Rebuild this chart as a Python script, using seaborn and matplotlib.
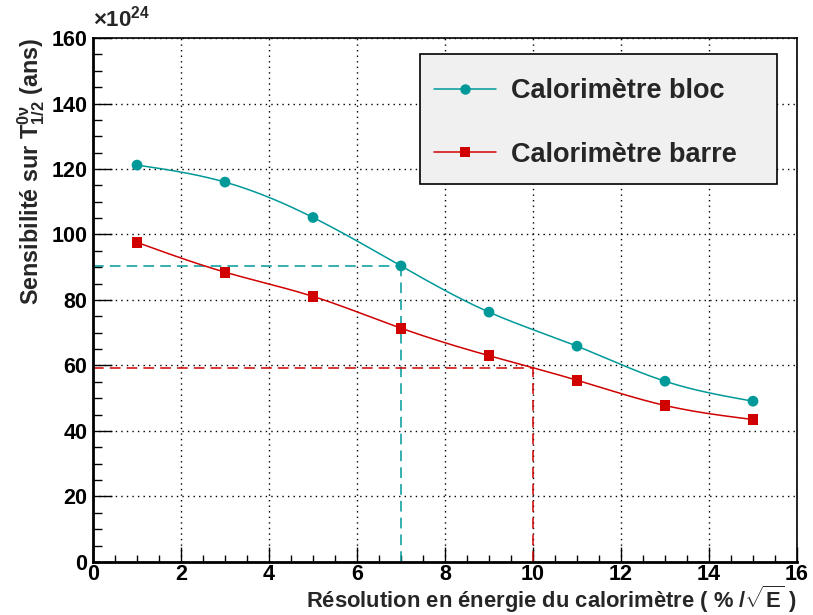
import seaborn as sns
import matplotlib.pyplot as plt
import numpy as np
import pandas as pd
from matplotlib.lines import Line2D
from matplotlib.patches import Rectangle
from matplotlib.ticker import MultipleLocator

# resolution (% / sqrt(E)) and sensitivity (x 1e24 ans)
resolution = [1, 3, 5, 7, 9, 11, 13, 15]
bloc = [121.2, 116.0, 105.2, 90.4, 76.3, 65.9, 55.2, 49.1]
barre = [97.6, 88.5, 81.1, 71.4, 63.0, 55.5, 47.8, 43.5]

# reference working points drawn as dashed guides
bloc_ref = (7, 90.4)
barre_ref = (10, 59.2)

teal = "#009999"
red = "#d00000"


def spline(x, y, n=200):
    # natural cubic spline, only used to draw the smooth curve between points
    x = np.asarray(x, float)
    y = np.asarray(y, float)
    h = np.diff(x)
    m = len(x)
    A = np.zeros((m, m))
    b = np.zeros(m)
    A[0, 0] = A[-1, -1] = 1
    for i in range(1, m - 1):
        A[i, i - 1] = h[i - 1]
        A[i, i] = 2 * (h[i - 1] + h[i])
        A[i, i + 1] = h[i]
        b[i] = 6 * ((y[i + 1] - y[i]) / h[i] - (y[i] - y[i - 1]) / h[i - 1])
    M = np.linalg.solve(A, b)
    xs = np.linspace(x[0], x[-1], n)
    idx = np.clip(np.searchsorted(x, xs) - 1, 0, m - 2)
    x0, x1 = x[idx], x[idx + 1]
    hh = x1 - x0
    ys = (M[idx] * (x1 - xs) ** 3 / (6 * hh) + M[idx + 1] * (xs - x0) ** 3 / (6 * hh)
          + (y[idx] / hh - M[idx] * hh / 6) * (x1 - xs)
          + (y[idx + 1] / hh - M[idx + 1] * hh / 6) * (xs - x0))
    return xs, ys


sns.set_theme(style="white")
plt.rcParams["font.family"] = ["Liberation Sans", "DejaVu Sans"]
plt.rcParams["font.weight"] = "bold"
plt.rcParams["mathtext.fontset"] = "custom"
plt.rcParams["mathtext.rm"] = "Liberation Sans:bold"
plt.rcParams["mathtext.it"] = "Liberation Sans:bold"
plt.rcParams["mathtext.bf"] = "Liberation Sans:bold"
plt.rcParams["mathtext.default"] = "bf"

df = pd.DataFrame({"res": resolution, "bloc": bloc, "barre": barre})

fig = plt.figure(figsize=(8.13, 6.15), dpi=100)
ax = fig.add_axes([0.1144, 0.0862, 0.8659, 0.852])

# smooth curves
for col, c in [("bloc", teal), ("barre", red)]:
    xs, ys = spline(df["res"], df[col])
    sns.lineplot(x=xs, y=ys, ax=ax, color=c, linewidth=1.1, zorder=3)

sns.scatterplot(data=df, x="res", y="bloc", ax=ax, color=teal, marker="o",
                s=60, edgecolor="none", zorder=4)
sns.scatterplot(data=df, x="res", y="barre", ax=ax, color=red, marker="s",
                s=60, edgecolor="none", zorder=4)

# dashed guides
dash = (0, (7, 4))
ax.plot([0, bloc_ref[0]], [bloc_ref[1]] * 2, color=teal, ls=dash, lw=1.1, zorder=2)
ax.plot([bloc_ref[0]] * 2, [0, bloc_ref[1]], color=teal, ls=dash, lw=1.1, zorder=2)
ax.plot([0, barre_ref[0]], [barre_ref[1]] * 2, color=red, ls=dash, lw=1.1, zorder=2)
ax.plot([barre_ref[0]] * 2, [0, barre_ref[1]], color=red, ls=dash, lw=1.1, zorder=2)

ax.set_xlim(0, 16)
ax.set_ylim(0, 160)
ax.xaxis.set_major_locator(MultipleLocator(2))
ax.xaxis.set_minor_locator(MultipleLocator(0.5))
ax.yaxis.set_major_locator(MultipleLocator(20))
ax.yaxis.set_minor_locator(MultipleLocator(5))
ax.grid(True, which="major", color="black", linestyle=(0, (1, 3)), linewidth=1.0)
ax.set_axisbelow(True)

ax.tick_params(axis="both", which="both", direction="in", colors="black",
               labelsize=15.5, bottom=True, left=True, top=False, right=False)
ax.tick_params(axis="y", which="major", length=14, width=1, pad=4)
ax.tick_params(axis="y", which="minor", length=6.5, width=1)
ax.tick_params(axis="x", which="major", length=11, width=1, pad=1.5)
ax.tick_params(axis="x", which="minor", length=5, width=1)
for lab in ax.get_xticklabels() + ax.get_yticklabels():
    lab.set_fontweight("bold")

for side in ["left", "bottom"]:
    ax.spines[side].set_linewidth(2)
    ax.spines[side].set_color("black")
for side in ["top", "right"]:
    ax.spines[side].set_linewidth(1.2)
    ax.spines[side].set_color("black")

# x title right-aligned on the frame, near the bottom of the canvas
ax.set_xlabel("")
fig.text(0.9803, 0.0114, r"Résolution en énergie du calorimètre ( % /$\sqrt{E}$ )",
         fontsize=15.8, fontweight="bold", ha="right", va="baseline")
ax.set_ylabel(r"Sensibilité sur $T^{0\nu}_{1/2}$ (ans)",
              fontsize=16.8, fontweight="bold", loc="top", labelpad=3)
ax.text(0.0, 1.012, r"$\times$10$^{24}$", transform=ax.transAxes,
        fontsize=16, fontweight="bold", ha="left", va="bottom")

# legend box drawn by hand so its size matches, entries placed inside it
ax.add_patch(Rectangle((0.4645, 0.7214), 0.507, 0.248, transform=ax.transAxes,
                       facecolor="#f0f0f0", edgecolor="black", linewidth=1.2,
                       zorder=5))
handles = [
    Line2D([], [], color=teal, lw=1.1, marker="o", markersize=7.5, markeredgewidth=0),
    Line2D([], [], color=red, lw=1.1, marker="s", markersize=7.5, markeredgewidth=0),
]
leg = ax.legend(handles, ["Calorimètre bloc", "Calorimètre barre"],
                loc="upper left", bbox_to_anchor=(0.4844, 0.9237),
                fontsize=19.5, frameon=False,
                handlelength=2.3, handletextpad=0.55,
                labelspacing=1.4, borderpad=0, borderaxespad=0)
leg.set_zorder(6)
for t in leg.get_texts():
    t.set_fontweight("bold")

fig.savefig("out.png", dpi=100)
